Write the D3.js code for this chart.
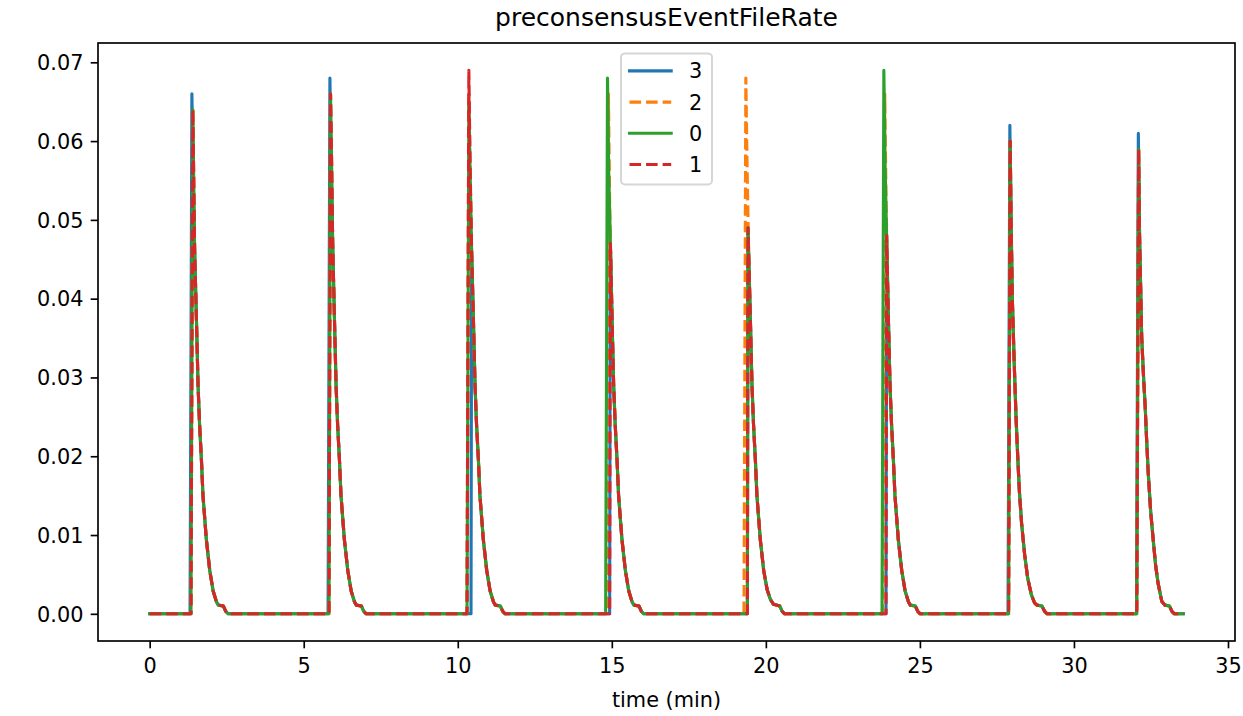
<!DOCTYPE html>
<html>
<head>
<meta charset="utf-8">
<script src="https://cdn.jsdelivr.net/npm/d3@7"></script>
<style>
  html, body { margin: 0; padding: 0; background: #ffffff; }
  svg { display: block; font-family: "DejaVu Sans", sans-serif; }
</style>
</head>
<body>
<svg id="chart" width="1243" height="716"></svg>
<script>
// ---------------- DATA ----------------
const chartTitle = "preconsensusEventFileRate";
const xLabel = "time (min)";
const xTicks = [0, 5, 10, 15, 20, 25, 30, 35];
const yTicks = [0.00, 0.01, 0.02, 0.03, 0.04, 0.05, 0.06, 0.07];
const seriesNames = ["3", "2", "0", "1"];
const seriesColors = ["#1f77b4", "#ff7f0e", "#2ca02c", "#d62728"];
const seriesDashed = [false, true, false, true];

// shared decay tails after each burst (time in min, rate)
const tail1 = [[1.46,.046],[1.52,.037],[1.57,.029],[1.62,.024],[1.68,.0195],[1.73,.015],[1.84,.0094],[1.95,.0055],[2.06,.0029],[2.17,.0015],[2.23,.0011],[2.39,.0010],[2.47,.0003],[2.55,0]];
const tail2 = [[5.94,.047],[6.00,.037],[6.05,.029],[6.10,.024],[6.16,.0195],[6.21,.015],[6.32,.0094],[6.43,.0055],[6.54,.0029],[6.65,.0015],[6.71,.0011],[6.87,.0010],[6.95,.0003],[7.03,0]];
const tail3 = [[10.45,.046],[10.51,.037],[10.56,.029],[10.61,.024],[10.67,.0195],[10.72,.015],[10.83,.0094],[10.94,.0055],[11.05,.0029],[11.16,.0015],[11.22,.0011],[11.38,.0010],[11.46,.0003],[11.54,0]];
const tail4 = [[14.96,.046],[15.01,.037],[15.06,.029],[15.11,.024],[15.17,.0195],[15.22,.015],[15.33,.0094],[15.44,.0055],[15.55,.0029],[15.66,.0015],[15.72,.0011],[15.88,.0010],[15.96,.0003],[16.04,0]];
const tail5 = [[19.44,.046],[19.50,.037],[19.55,.029],[19.60,.024],[19.66,.0195],[19.71,.015],[19.82,.0094],[19.93,.0055],[20.04,.0031],[20.15,.0018],[20.25,.0012],[20.45,.0010],[20.53,.0003],[20.61,0]];
const tail6 = [[23.93,.046],[23.98,.037],[24.03,.029],[24.08,.024],[24.14,.0195],[24.19,.015],[24.30,.0094],[24.41,.0055],[24.52,.0029],[24.63,.0015],[24.69,.0011],[24.85,.0010],[24.93,.0003],[25.01,0]];
const tail7 = [[28.00,.040],[28.06,.032],[28.12,.025],[28.18,.0195],[28.23,.0155],[28.30,.0115],[28.40,.0075],[28.50,.0045],[28.62,.0024],[28.72,.0014],[28.80,.0011],[28.96,.0010],[29.05,.0003],[29.13,0]];
const tail8 = [[32.20,.035],[32.26,.030],[32.31,.0265],[32.36,.022],[32.41,.018],[32.49,.013],[32.57,.0095],[32.65,.0062],[32.73,.0039],[32.85,.0016],[32.95,.0011],[33.10,.0010],[33.18,.0003],[33.26,0],[33.55,0]];
const tails = [tail1, tail2, tail3, tail4, tail5, tail6, tail7, tail8];

// burst heads (rise and peak) per series
const heads3 = [
  [[0,0],[1.31,0],[1.37,.066],[1.41,.056]],
  [[5.79,0],[5.85,.068],[5.89,.057]],
  [[10.43,0],[10.45,.046]],
  [[14.93,0],[14.95,.047]],
  [[19.40,0],[19.42,.049]],
  [[23.90,0],[23.92,.048]],
  [[27.86,0],[27.92,.062],[27.96,.050]],
  [[32.03,0],[32.09,.061],[32.13,.048]]
];
const heads2 = [
  [[0,0],[1.34,0],[1.40,.064],[1.43,.055]],
  [[5.82,0],[5.87,.066],[5.91,.056]],
  [[10.30,0],[10.36,.066],[10.40,.056]],
  [[14.83,0],[14.89,.066],[14.93,.052]],
  [[19.29,0],[19.35,.068],[19.39,.057]],
  [[23.80,0],[23.86,.066],[23.90,.053]],
  [[27.88,0],[27.93,.060],[27.96,.050]],
  [[32.04,0],[32.10,.059],[32.13,.048]]
];
const heads0 = [
  [[0,0],[1.34,0],[1.40,.064],[1.43,.055]],
  [[5.82,0],[5.87,.066],[5.91,.056]],
  [[10.30,0],[10.36,.065],[10.40,.056]],
  [[14.80,0],[14.86,.068],[14.90,.056]],
  [[19.40,0],[19.42,.049]],
  [[23.77,0],[23.83,.069],[23.87,.057]],
  [[27.88,0],[27.93,.060],[27.96,.050]],
  [[32.04,0],[32.10,.059],[32.13,.048]]
];
const heads1 = [
  [[0,0],[1.34,0],[1.40,.064],[1.43,.055]],
  [[5.82,0],[5.87,.066],[5.91,.056]],
  [[10.30,0],[10.36,.069],[10.40,.057]],
  [[14.93,0],[14.95,.047]],
  [[19.40,0],[19.42,.049]],
  [[23.90,0],[23.92,.048]],
  [[27.88,0],[27.93,.060],[27.96,.050]],
  [[32.04,0],[32.10,.059],[32.13,.048]]
];
const seriesHeads = [heads3, heads2, heads0, heads1];

// ---------------- BUILD ----------------
function buildSeries(heads) {
  const pts = [];
  heads.forEach((h, i) => {
    h.forEach(p => pts.push(p));
    const last = h[h.length - 1][0];
    tails[i].filter(p => p[0] > last).forEach(p => pts.push(p));
  });
  return pts;
}
const seriesData = seriesHeads.map(buildSeries);

// ---------------- LAYOUT ----------------
const svg = d3.select("#chart");
const L = 98, R = 1235, T = 43, B = 641;
const fs = 20.83;

const allX = seriesData.flat().map(d => d[0]);
const allY = seriesData.flat().map(d => d[1]);
const xMin = d3.min(allX), xMax = d3.max(allX);
const yMin = d3.min(allY), yMax = d3.max(allY);
const xPad = (xMax - xMin) * 0.05, yPad = (yMax - yMin) * 0.05;

const x = d3.scaleLinear().domain([xMin - xPad, xMax + xPad]).range([L, R]);
const y = d3.scaleLinear().domain([yMin - yPad, yMax + yPad]).range([B, T]);

svg.append("rect").attr("x", 0).attr("y", 0).attr("width", 1243).attr("height", 716).attr("fill", "#fff");

// lines
const line = d3.line().x(d => x(d[0])).y(d => y(d[1]));
seriesData.forEach((data, i) => {
  svg.append("path")
    .datum(data)
    .attr("d", line)
    .attr("fill", "none")
    .attr("stroke", seriesColors[i])
    .attr("stroke-width", 3.1)
    .attr("stroke-linejoin", "round")
    .attr("stroke-linecap", seriesDashed[i] ? "butt" : "square")
    .attr("stroke-dasharray", seriesDashed[i] ? "11.56,5" : null);
});

// axes
const tickLen = 7.3, tickPad = 7.3;
const xAxis = d3.axisBottom(x).tickValues(xTicks).tickSize(tickLen).tickPadding(tickPad).tickFormat(d3.format("d"));
const yAxis = d3.axisLeft(y).tickValues(yTicks).tickSize(tickLen).tickPadding(tickPad).tickFormat(d3.format(".2f"));

const gx = svg.append("g").attr("transform", `translate(0,${B})`).call(xAxis);
const gy = svg.append("g").attr("transform", `translate(${L},0)`).call(yAxis);
[gx, gy].forEach(g => {
  g.select(".domain").remove();
  g.selectAll(".tick line").attr("stroke", "#000").attr("stroke-width", 1.67);
  g.selectAll(".tick text").attr("fill", "#000").attr("font-size", fs).attr("font-family", "DejaVu Sans");
});
gx.selectAll(".tick text").attr("y", tickLen + tickPad).attr("dy", "0.84em");
gy.selectAll(".tick text").attr("dy", "0.35em");

// frame
svg.append("rect").attr("x", L).attr("y", T).attr("width", R - L).attr("height", B - T)
  .attr("fill", "none").attr("stroke", "#000").attr("stroke-width", 1.67);

// labels
svg.append("text").attr("x", (L + R) / 2).attr("y", 707).attr("text-anchor", "middle")
  .attr("font-size", fs).attr("fill", "#000").text(xLabel);
svg.append("text").attr("x", (L + R) / 2).attr("y", 26).attr("text-anchor", "middle")
  .attr("font-size", 25).attr("fill", "#000").text(chartTitle);

// legend
const lgX = 621, lgY = 53.4, lgW = 91, lgH = 131;
const lg = svg.append("g");
lg.append("rect").attr("x", lgX).attr("y", lgY).attr("width", lgW).attr("height", lgH)
  .attr("rx", 4).attr("ry", 4)
  .attr("fill", "rgba(255,255,255,0.8)").attr("stroke", "#d6d6d6").attr("stroke-width", 2);
seriesNames.forEach((name, i) => {
  const cy = lgY + 17.5 + i * 31.2;
  lg.append("line").attr("x1", 629.5).attr("x2", 671.2).attr("y1", cy).attr("y2", cy)
    .attr("stroke", seriesColors[i]).attr("stroke-width", 3.1)
    .attr("stroke-linecap", seriesDashed[i] ? "butt" : "square")
    .attr("stroke-dasharray", seriesDashed[i] ? "11.56,5" : null);
  lg.append("text").attr("x", 689).attr("y", cy).attr("dy", "0.36em")
    .attr("font-size", fs).attr("fill", "#000").text(name);
});
</script>
</body>
</html>
